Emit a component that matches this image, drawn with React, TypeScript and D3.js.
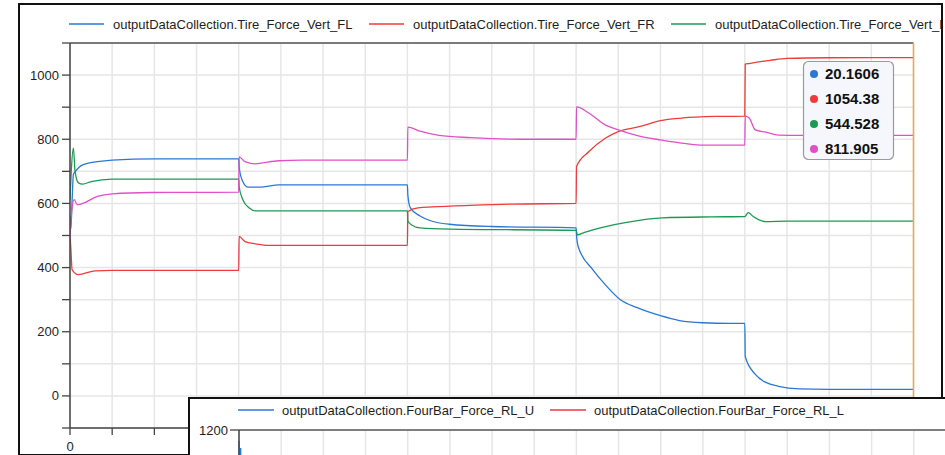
import React from "react";
import * as d3 from "d3";

// Tire vertical forces (time in s, force in N)
const flTime = [0, 0.02, 0.05, 0.08, 0.12, 0.3, 0.65, 1.0, 2.0, 4.0, 4.01, 4.08, 4.22, 4.55, 4.95, 8.0, 8.01, 8.07, 8.3, 8.55, 9.0, 10.0, 12.0, 12.01, 12.05, 12.4, 12.65, 13.05, 13.45, 14.0, 14.45, 15.0, 15.65, 16.0, 16.01, 16.25, 16.5, 16.8, 17.3, 18.0, 20.0];
const flValues = [560, 520, 610, 690, 698, 720, 730, 735, 739, 739, 715, 673, 651, 651, 658, 658, 627, 586, 561, 546, 535, 528, 524, 502, 465, 393, 353, 300, 275, 250, 235, 228, 226, 226, 123, 67, 42, 30, 22, 20.5, 20.16];

const frTime = [0, 0.02, 0.05, 0.2, 0.6, 1.0, 4.0, 4.01, 4.15, 4.4, 4.7, 8.0, 8.01, 8.25, 8.6, 9.5, 10.5, 12.0, 12.01, 12.3, 12.7, 13.0, 13.5, 14.0, 14.5, 15.3, 16.0, 16.01, 16.1, 16.6, 17.0, 18.0, 20.0];
const frValues = [500, 460, 393, 378, 390, 391, 391, 497, 481, 474, 469, 469, 575, 586, 589, 594, 598, 600, 715, 761, 804, 824, 839, 858, 866, 871, 872, 1034, 1036, 1046, 1052, 1054, 1054.38];

const rlTime = [0, 0.03, 0.08, 0.12, 0.2, 0.3, 0.5, 1.0, 4.0, 4.01, 4.1, 4.25, 4.4, 8.0, 8.01, 8.1, 8.3, 9.0, 12.0, 12.03, 12.2, 12.7, 13.2, 14.05, 15.2, 16.0, 16.08, 16.2, 16.5, 17.0, 20.0];
const rlValues = [611, 700, 773, 700, 664, 660, 668, 676, 676, 652, 611, 586, 577, 577, 545, 533, 524, 520, 516, 502, 510, 528, 541, 555, 558, 559, 571, 559, 543, 544.5, 544.528];

const rrTime = [0, 0.03, 0.1, 0.17, 0.3, 0.65, 1.0, 1.9, 4.0, 4.01, 4.15, 4.4, 4.6, 4.95, 5.5, 8.0, 8.01, 8.3, 8.75, 9.5, 10.7, 12.0, 12.01, 12.3, 12.7, 13.0, 13.5, 14.0, 14.45, 14.95, 16.0, 16.01, 16.1, 16.25, 16.5, 16.8, 17.3, 20.0];
const rrValues = [496, 560, 612, 596, 600, 622, 630, 634, 635, 745, 730, 723, 727, 733, 735, 735, 838, 825, 812, 805, 800, 800, 901, 882, 844, 829, 810, 798, 789, 782, 782, 872, 867, 829, 822, 813, 812, 811.905];

const legendNames = [
  "outputDataCollection.Tire_Force_Vert_FL",
  "outputDataCollection.Tire_Force_Vert_FR",
  "outputDataCollection.Tire_Force_Vert_RL",
];
const cursorLabels = ["20.1606", "1054.38", "544.528", "811.905"];
const yLabelTicks = [0, 200, 400, 600, 800, 1000];
const xLabelTicks = [0, 4, 8, 12, 16, 20];

// second (overlapping) plot window
const subNames = ["outputDataCollection.FourBar_Force_RL_U", "outputDataCollection.FourBar_Force_RL_L"];
const rluTime = [0, 0.02, 0.04, 0.06];
const rluValues = [1110, 450, 1050, 150];
const subYLabels = [1200];

const colors = ["#2a78d6", "#ee3b3b", "#1b9a55", "#e050c8"];
const font = "'Liberation Sans', Arial, sans-serif";

const zip = (t: number[], v: number[]) => t.map((d, i) => [d, v[i]] as [number, number]);

const App = () => {
  const x = d3.scaleLinear().domain([0, 20]).range([70, 913.5]);
  const y = d3.scaleLinear().domain([-100, 1100]).range([428, 43]);
  const x2 = d3.scaleLinear().domain([0, 20]).range([239, 1082.5]);
  const y2 = d3.scaleLinear().domain([0, 1200]).range([575, 430]);

  const line = d3
    .line<[number, number]>()
    .x((d) => x(d[0]))
    .y((d) => y(d[1]))
    .curve(d3.curveMonotoneX);
  const line2 = d3.line<[number, number]>().x((d) => x2(d[0])).y((d) => y2(d[1]));

  const series = [zip(flTime, flValues), zip(frTime, frValues), zip(rlTime, rlValues), zip(rrTime, rrValues)];
  const xTicks = d3.range(0, 21, 1);
  const yTicks = d3.range(-100, 1101, 100);

  return (
    <svg width={945} height={455} style={{ position: "absolute", left: 0, top: 0, background: "#fff" }}>
      <defs>
        <clipPath id="win">
          <rect x={20} y={5} width={921} height={448} />
        </clipPath>
        <clipPath id="plot">
          <rect x={70} y={43} width={x(20) - 70 + 1} height={385} />
        </clipPath>
        <clipPath id="win2">
          <rect x={190} y={399} width={760} height={60} />
        </clipPath>
      </defs>

      {/* main window */}
      <g clipPath="url(#win)">
        <rect x={19} y={4} width={923} height={451} fill="#fff" />
        {legendNames.map((n, i) => {
          const lx = [69, 369, 671][i];
          return (
            <g key={n}>
              <line x1={lx} x2={lx + 35} y1={24} y2={24} stroke={colors[i]} strokeWidth={1.3} />
              <text x={lx + 44} y={28.5} fontFamily={font} fontSize={13} fill="#1e1e1e">{n}</text>
            </g>
          );
        })}

        {xTicks.map((t) => (
          <line key={"gx" + t} x1={x(t)} x2={x(t)} y1={43} y2={428} stroke="#e6e6e6" strokeWidth={1.5} />
        ))}
        {yTicks.map((v) => (
          <line key={"gy" + v} x1={70} x2={x(20)} y1={y(v)} y2={y(v)} stroke="#e6e6e6" strokeWidth={1.5} />
        ))}

        <g clipPath="url(#plot)">
          {series.map((s, i) => (
            <path key={i} d={line(s) || ""} fill="none" stroke={colors[i]} strokeWidth={1.3} />
          ))}
        </g>

        <line x1={70} x2={x(20)} y1={43} y2={43} stroke="#555" strokeWidth={1.5} />
        <line x1={70} x2={70} y1={43} y2={428} stroke="#444" strokeWidth={1.5} />
        <line x1={70} x2={x(20)} y1={428} y2={428} stroke="#444" strokeWidth={1.5} />
        {yTicks.map((v) => (
          <line key={"ty" + v} x1={62} x2={70} y1={y(v)} y2={y(v)} stroke="#444" strokeWidth={1.3} />
        ))}
        {yLabelTicks.map((v) => (
          <text key={"ly" + v} x={59} y={y(v) + 4.5} textAnchor="end" fontFamily={font} fontSize={13} fill="#1e1e1e">
            {v}
          </text>
        ))}
        {xTicks.map((t) => (
          <line key={"tx" + t} x1={x(t)} x2={x(t)} y1={428} y2={435} stroke="#444" strokeWidth={1.3} />
        ))}
        {xLabelTicks.map((t) => (
          <text key={"lx" + t} x={x(t)} y={451} textAnchor="middle" fontFamily={font} fontSize={13} fill="#1e1e1e">
            {t}
          </text>
        ))}

        <line x1={x(20)} x2={x(20)} y1={43} y2={428} stroke="#f7a548" strokeWidth={1.5} />

        <rect x={803.5} y={61.5} width={90} height={98} rx={5} fill="#f6f7fc" stroke="#9a9a9a" strokeWidth={1.2} />
        {cursorLabels.map((c, i) => (
          <g key={c}>
            <circle cx={814} cy={74 + 25 * i} r={4} fill={colors[i]} />
            <text x={825} y={79 + 25 * i} fontFamily={font} fontSize={15} fontWeight="bold" fill="#111">
              {c}
            </text>
          </g>
        ))}
      </g>
      <rect x={19} y={4} width={923} height={451} fill="none" stroke="#111" strokeWidth={2} />

      {/* overlapping second window */}
      <rect x={189} y={398} width={780} height={70} fill="#fff" stroke="#111" strokeWidth={2} />
      <g clipPath="url(#win2)">
        {xTicks.map((t) => (
          <line key={"g2" + t} x1={x2(t)} x2={x2(t)} y1={430} y2={460} stroke="#e6e6e6" strokeWidth={1.5} />
        ))}
        {subNames.map((n, i) => {
          const lx = [238, 550][i];
          return (
            <g key={n}>
              <line x1={lx} x2={lx + 36} y1={410} y2={410} stroke={colors[i]} strokeWidth={1.3} />
              <text x={lx + 44} y={414.5} fontFamily={font} fontSize={13} fill="#1e1e1e">{n}</text>
            </g>
          );
        })}
        <path d={line2(zip(rluTime, rluValues)) || ""} fill="none" stroke={colors[0]} strokeWidth={1.3} />
        <line x1={239} x2={950} y1={430} y2={430} stroke="#555" strokeWidth={1.5} />
        <line x1={239} x2={239} y1={430} y2={460} stroke="#444" strokeWidth={1.5} />
        {subYLabels.map((v) => (
          <g key={v}>
            <line x1={230} x2={239} y1={y2(v)} y2={y2(v)} stroke="#444" strokeWidth={1.3} />
            <text x={228} y={y2(v) + 4.5} textAnchor="end" fontFamily={font} fontSize={13} fill="#1e1e1e">{v}</text>
          </g>
        ))}
      </g>
    </svg>
  );
};

export default App;
